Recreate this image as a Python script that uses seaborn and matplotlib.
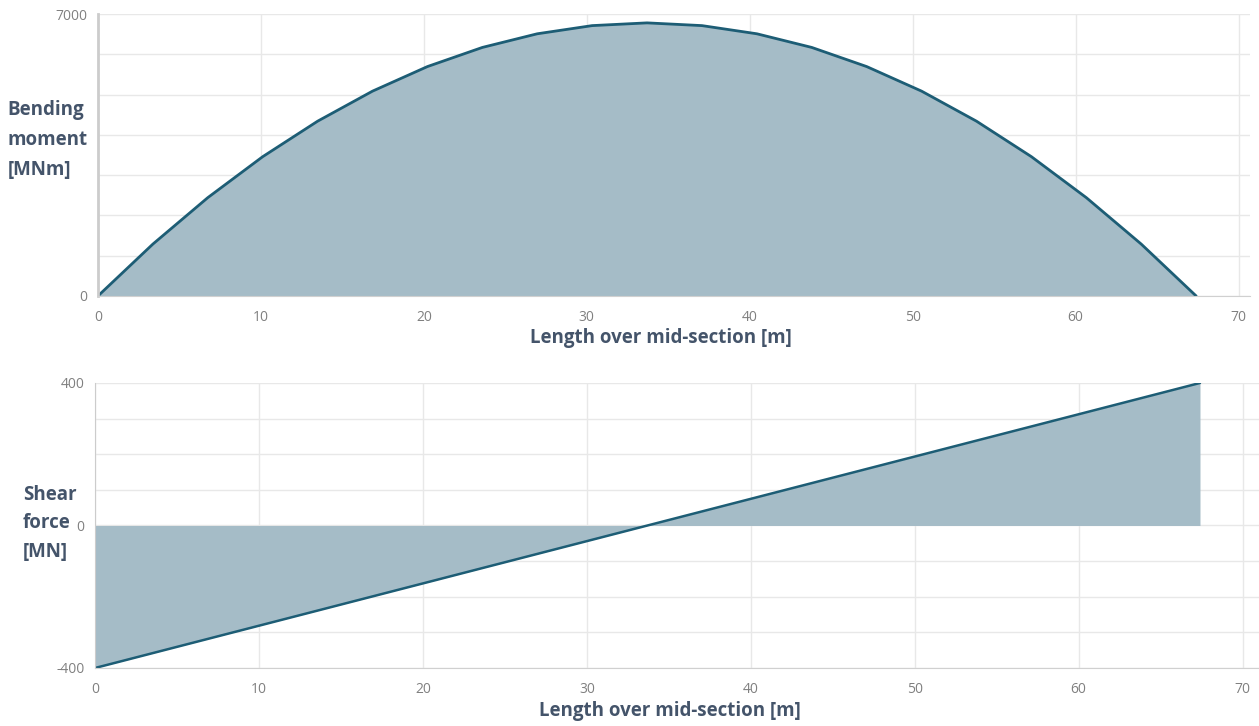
import seaborn as sns
import pandas as pd
import matplotlib.pyplot as plt
from matplotlib.ticker import MultipleLocator

# station positions along the hull [m]
length = [0.0, 3.37, 6.74, 10.11, 13.48, 16.85, 20.22, 23.59, 26.96, 30.33, 33.7,
          37.07, 40.44, 43.81, 47.18, 50.55, 53.92, 57.29, 60.66, 64.03, 67.4]
# bending moment [MNm]
moment = [0, 1288, 2441, 3458, 4339, 5085, 5695, 6170, 6509, 6712, 6780,
          6712, 6509, 6170, 5695, 5085, 4339, 3458, 2441, 1288, 0]
# shear force [MN]
shear = [-400, -360, -320, -280, -240, -200, -160, -120, -80, -40, 0,
         40, 80, 120, 160, 200, 240, 280, 320, 360, 400]

df = pd.DataFrame({"length": length, "moment": moment, "shear": shear})

sns.set_style("white")
plt.rcParams["font.family"] = ["Open Sans", "DejaVu Sans"]
plt.rcParams["axes.unicode_minus"] = False

line_c = "#1d5d75"
fill_c = "#a5bcc7"
grid_c = "#e8e8e8"
tick_c = "#808080"
label_c = "#44546a"

fig = plt.figure(figsize=(12.59, 7.26), dpi=100)
ax1 = fig.add_axes([0.0778, 0.5923, 0.915, 0.3884])
ax2 = fig.add_axes([0.0755, 0.0799, 0.9245, 0.3926])


def style(ax, ymaj, ymin_step, xmax, xlab_pos):
    ax.set_xlim(0, xmax)
    ax.xaxis.set_major_locator(MultipleLocator(10))
    ax.set_yticks(ymaj)
    ax.yaxis.set_minor_locator(MultipleLocator(ymin_step))
    ax.grid(True, which="both", color=grid_c, linewidth=1)
    ax.set_axisbelow(True)
    for s in ["top", "right"]:
        ax.spines[s].set_visible(False)
    ax.spines["left"].set_color("#cccccc")
    ax.spines["bottom"].set_color("#d0d0d0")
    ax.tick_params(axis="both", which="major", colors=grid_c, labelcolor=tick_c,
                   labelsize=10, length=4)
    ax.tick_params(axis="y", which="minor", length=0)
    ax.tick_params(axis="x", pad=6)
    ax.set_ylabel("")
    ax.set_xlabel("Length over mid-section [m]", fontsize=13.5, fontweight="bold",
                  color=label_c)
    ax.xaxis.set_label_coords(xlab_pos, -0.115)


# bending moment
ax1.fill_between(df["length"], df["moment"], 0, color=fill_c, linewidth=0)
sns.lineplot(data=df, x="length", y="moment", ax=ax1, color=line_c, linewidth=2)
ax1.set_ylim(0, 7000)
style(ax1, [0, 7000], 1000, 70.7, 0.489)
ax1.spines["left"].set_linewidth(2)

# shear force
ax2.fill_between(df["length"], df["shear"], 0, color=fill_c, linewidth=0)
sns.lineplot(data=df, x="length", y="shear", ax=ax2, color=line_c, linewidth=1.8)
ax2.set_ylim(-400, 400)
style(ax2, [-400, 0, 400], 100, 71.0, 0.494)

fig.text(0.006, 0.807, "Bending\nmoment\n[MNm]", fontsize=13.5, fontweight="bold",
         color=label_c, va="center", ha="left", linespacing=1.65)
fig.text(0.018, 0.279, "Shear\nforce\n[MN]", fontsize=13.5, fontweight="bold",
         color=label_c, va="center", ha="left", linespacing=1.55)

fig.savefig("out.png", dpi=100)
